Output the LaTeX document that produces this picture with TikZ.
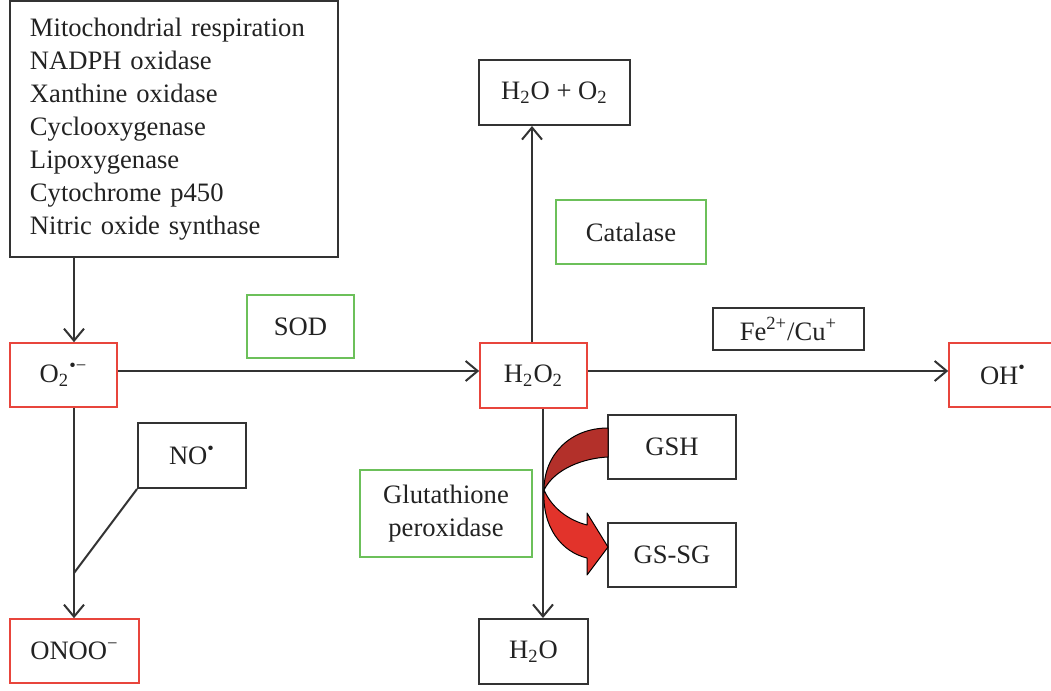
\documentclass[tikz,border=0pt]{standalone}
\usepackage{fontspec}
\setmainfont{Liberation Serif}
\usetikzlibrary{arrows.meta}
\definecolor{boxgray}{HTML}{333333}
\definecolor{boxred}{HTML}{E8453C}
\definecolor{boxgreen}{HTML}{6CC05A}
\definecolor{darkarrow}{HTML}{B3302A}
\definecolor{brightarrow}{HTML}{E2332B}
\definecolor{txt}{HTML}{222222}
\begin{document}
\begin{tikzpicture}[x=0.5pt,y=-0.5pt,
  every node/.style={font=\fontsize{13.3}{16.5}\selectfont, text=txt, inner sep=0pt},
  blackbox/.style={draw=boxgray, line width=1pt},
  redbox/.style={draw=boxred, line width=0.8pt},
  greenbox/.style={draw=boxgreen, line width=0.8pt},
  conn/.style={draw=boxgray, line width=1pt},
  arr/.style={conn, -{Straight Barb[length=6pt,width=10pt]}}]
\useasboundingbox (0,0) rectangle (1051,691);

% nodes
\node[blackbox, minimum width=164pt, minimum height=128pt, text width=144pt, align=left] (src) at (174,129)
 {Mitochondrial respiration\\NADPH oxidase\\Xanthine oxidase\\Cyclooxygenase\\Lipoxygenase\\Cytochrome p450\\Nitric oxide synthase};
\node[redbox, minimum width=53.5pt, minimum height=32pt] (O2) at (63.5,375) {O\textsubscript{2}\textsuperscript{\textbullet−}};
\node[greenbox, minimum width=53.5pt, minimum height=31.5pt] (SOD) at (300.5,326.5) {SOD};
\node[redbox, minimum width=53.5pt, minimum height=32.5pt] (H2O2) at (533.5,375.5) {H\textsubscript{2}O\textsubscript{2}};
\node[blackbox, minimum width=75.5pt, minimum height=32.5pt] (H2OO2) at (554.5,92.5) {H\textsubscript{2}O + O\textsubscript{2}};
\node[greenbox, minimum width=75pt, minimum height=32pt] (cat) at (631,232) {Catalase};
\node[blackbox, minimum width=75.5pt, minimum height=21pt] (fe) at (788.5,329) {Fe\textsuperscript{2+}/Cu\textsuperscript{+}};
\node[redbox, minimum width=54pt, minimum height=32pt] (OH) at (1003,375) {OH\textsuperscript{\textbullet}};
\node[blackbox, minimum width=54pt, minimum height=32.5pt] (NO) at (192,455.5) {NO\textsuperscript{\textbullet}};
\node[redbox, minimum width=64.5pt, minimum height=32pt] (ONOO) at (74.5,651) {ONOO\textsuperscript{−}};
\node[greenbox, minimum width=86pt, minimum height=43.5pt, align=center] (gpx) at (446,513.5) {Glutathione\\peroxidase};
\node[blackbox, minimum width=54.5pt, minimum height=32.5pt] (H2O) at (533.5,651.5) {H\textsubscript{2}O};
\node[blackbox, minimum width=64pt, minimum height=32pt] (GSH) at (672,447) {GSH};
\node[blackbox, minimum width=64pt, minimum height=32pt] (GSSG) at (672,555) {GS-SG};

% connectors
\coordinate (xa) at (74,0);
\coordinate (xb) at (532,0);
\coordinate (xc) at (543,0);
\coordinate (ya) at (0,371);
\coordinate (j) at (74,573);
\draw[arr] (src.south -| xa) -- (O2.north -| xa);
\draw[arr] (O2.south -| xa) -- (ONOO.north -| xa);
\draw[conn] (NO.south west) -- (j);
\draw[arr] (O2.east |- ya) -- (H2O2.west |- ya);
\draw[arr] (H2O2.east |- ya) -- (OH.west |- ya);
\draw[arr] (H2O2.north -| xb) -- (H2OO2.south -| xb);
\draw[arr] (H2O2.south -| xc) -- (H2O.north -| xc);

% curved red arrow GSH -> GS-SG
\fill[darkarrow, draw=black, line width=0.5pt, line join=round]
  (608,428) .. controls (570,428) and (544,455) .. (544,490)
  .. controls (555,468) and (585,458) .. (608,457) -- cycle;
\fill[brightarrow, draw=black, line width=0.5pt, line join=round]
  (544,490) .. controls (552,508) and (568,520) .. (587,525)
  -- (587,513) -- (608,547) -- (587,575) -- (587,558)
  .. controls (562,552) and (542,528) .. (544,490) -- cycle;
\end{tikzpicture}
\end{document}
